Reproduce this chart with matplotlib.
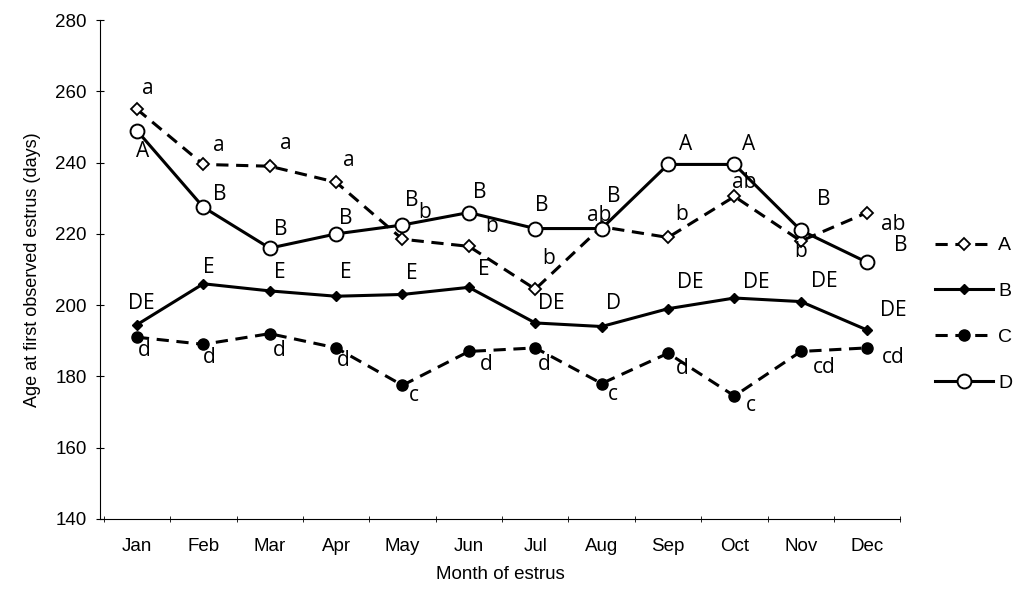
import numpy as np
import matplotlib
matplotlib.use("Agg")
import matplotlib.pyplot as plt

months = ['Jan', 'Feb', 'Mar', 'Apr', 'May', 'Jun', 'Jul', 'Aug', 'Sep', 'Oct', 'Nov', 'Dec']

# valores
serie_a = [255, 239.5, 239, 234.5, 218.5, 216.5, 204.5, 222, 219, 230.5, 218, 226]
serie_b = [194.5, 206, 204, 202.5, 203, 205, 195, 194, 199, 202, 201, 193]
serie_c = [191, 189, 192, 188, 177.5, 187, 188, 178, 186.5, 174.5, 187, 188]
serie_d = [249, 227.5, 216, 220, 222.5, 226, 221.5, 221.5, 239.5, 239.5, 221, 212]

letras_a = ['a', 'a', 'a', 'a', 'b', 'b', 'b', 'ab', 'b', 'ab', 'b', 'ab']
letras_b = ['DE', 'E', 'E', 'E', 'E', 'E', 'DE', 'D', 'DE', 'DE', 'DE', 'DE']
letras_c = ['d', 'd', 'd', 'd', 'c', 'd', 'd', 'c', 'd', 'c', 'cd', 'cd']
letras_d = ['A', 'B', 'B', 'B', 'B', 'B', 'B', 'B', 'A', 'A', 'B', 'B']

# desplazamientos de las letras (pixeles)
offs_a = [(11, 21), (16, 19), (16, 23), (13, 22), (22, 27), (23, 20), (13, 31), (-2, 11),
          (14, 23), (10, 14), (0, -10), (26, -12)]
offs_b = [(4, 21), (6, 16), (10, 18), (10, 24), (9, 21), (15, 18), (16, 19), (12, 23),
          (22, 26), (22, 16), (23, 20), (26, 20)]
offs_c = [(7, -13), (6, -13), (10, -17), (7, -13), (11, -10), (17, -13), (9, -17), (11, -11),
          (14, -15), (16, -10), (23, -16), (26, -10)]
offs_d = [(6, -21), (16, 13), (11, 19), (10, 15), (9, 24), (11, 20), (6, 23), (12, 32),
          (18, 20), (14, 20), (23, 31), (33, 17)]

plt.rcParams['font.family'] = ['Liberation Sans', 'DejaVu Sans']

fig = plt.figure(figsize=(10.35, 5.93), dpi=100)
ax = fig.add_axes([0.097, 0.125, 0.773, 0.841])

x = np.arange(len(months))
dash = (0, (4, 2.5))

ax.plot(x, serie_a, linestyle=dash, color='black', lw=2.2, marker='D', markersize=6,
        markerfacecolor='white', markeredgecolor='black', markeredgewidth=1.3, label='A', zorder=3)
ax.plot(x, serie_b, linestyle='-', color='black', lw=2.2, marker='D', markersize=5.5,
        markerfacecolor='black', label='B', zorder=3)
ax.plot(x, serie_c, linestyle=dash, color='black', lw=2.2, marker='o', markersize=8,
        markerfacecolor='black', label='C', zorder=3)
ax.plot(x, serie_d, linestyle='-', color='black', lw=2.2, marker='o', markersize=10,
        markerfacecolor='white', markeredgecolor='black', markeredgewidth=1.4, label='D', zorder=4)

for serie, letras, offs in [(serie_a, letras_a, offs_a), (serie_b, letras_b, offs_b),
                            (serie_c, letras_c, offs_c), (serie_d, letras_d, offs_d)]:
    for i, (v, l, o) in enumerate(zip(serie, letras, offs)):
        ax.annotate(l, (i, v), xytext=(o[0] * 0.72, o[1] * 0.72), textcoords='offset points',
                    ha='center', va='center', fontsize=15, family=['Open Sans', 'DejaVu Sans'])

ax.set_xlim(-0.55, 11.5)
ax.set_ylim(140, 280)
ax.set_yticks(np.arange(140, 281, 20))
ax.set_xticks(x)
ax.set_xticklabels(months)
ax.set_xticks(np.arange(-0.5, 12, 1), minor=True)
ax.tick_params(axis='x', which='major', length=0, labelsize=13.5, pad=14)
ax.tick_params(axis='x', which='minor', length=5, direction='inout')
ax.tick_params(axis='y', length=6, direction='inout', labelsize=13.5, pad=7)
ax.spines['top'].set_visible(False)
ax.spines['right'].set_visible(False)
ax.set_xlabel('Month of estrus', fontsize=13.5, labelpad=8)
ax.set_ylabel('Age at first observed estrus (days)', fontsize=13, labelpad=10)

fig.legend(loc='center left', bbox_to_anchor=(0.892, 0.47), frameon=False, fontsize=14,
           handlelength=3.0, labelspacing=1.45, handletextpad=0.25, borderaxespad=0.2)

fig.savefig('out.png', dpi=100)
